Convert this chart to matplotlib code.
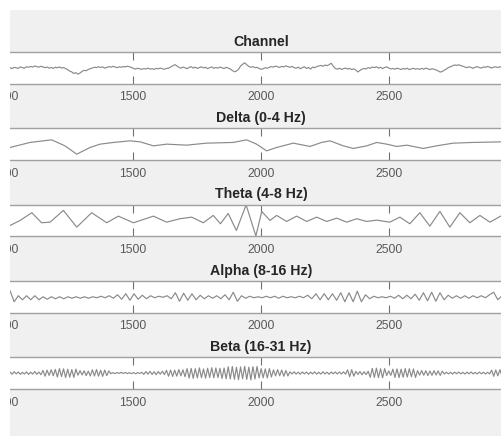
"""
plot.py

eeg band plots, matlab style figure (cropped screenshot look)
"""
import matplotlib
matplotlib.use('Agg')
import matplotlib.pyplot as plt
import numpy as np
from matplotlib.patches import Rectangle

# data ------------------------------------------------------------------------
titles = ['Channel', 'Delta (0-4 Hz)', 'Theta (4-8 Hz)',
          'Alpha (8-16 Hz)', 'Beta (16-31 Hz)']
xtick_values = [1000, 1500, 2000, 2500]

# first / last visible sample
t_start = 1022
t_stop = 2939

channel_y = [
    0.3, -0.8, 0.5, 0.1, -0.6, 0.9, 0.2, -0.4, 1.1, 0.6, 1.4, 0.8, 1.9, 1.2, 0.7, 1.6, 0.9, 0.2, 0.8, -0.3,
    0.4, -0.5, 0.6, 0.1, 0.9, -0.2, 0.3, -0.7, -1.8, -3.2, -4.1, -5.6, -4.8, -6.3, -5.1, -3.6, -2.4, -2.9, -1.6, -0.8,
    -0.2, 0.6, 0.3, 1.1, 0.5, 0.9, -0.3, 0.4, 1.2, 0.7, 1.5, 0.8, 0.2, 1.0, 0.6, 1.3, 0.9, 1.7, 1.1, 0.4,
    -0.6, -1.2, -0.4, -0.9, -1.5, -0.7, -1.1, -0.3, -1.3, -0.8, -1.6, -0.5, -1.0, -0.2, -0.9, -1.4, -0.6, -0.3, 0.8, 1.9,
    3.2, 2.1, 0.6, -0.4, 0.8, 0.1, -0.9, 0.5, 1.2, -0.2, 0.7, -0.6, 0.3, 1.0, -0.1, 0.6, -0.8, 0.2, 0.9, -0.5,
    0.4, -0.3, 0.8, 0.1, -0.7, 0.5, -0.2, -1.1, -2.6, -3.9, -3.2, -1.5, 1.8, 3.6, 5.0, 3.1, 1.4, 0.6, 1.2, 0.2,
    0.5, -0.6, -1.5, -0.9, 0.2, -0.4, 0.6, 1.3, 0.7, 1.8, 1.1, 0.4, 1.5, 0.9, 2.0, 1.2, 0.6, 1.4, 0.3, -0.4,
    0.7, -0.9, 0.2, 1.1, -0.6, 0.4, -1.2, 0.8, 0.1, 1.3, 1.9, 2.4, 1.6, 2.8, 2.2, 3.1, 4.6, 1.8, -0.6, -1.3,
    -0.4, -1.5, -0.8, -0.2, -1.2, -0.6, -1.7, -1.0, -2.2, -4.1, -2.6, -1.3, -0.7, -1.1, 0.3, -0.5, 0.9, 0.2, 1.1, -0.3,
    0.6, -0.8, 0.4, 1.0, -0.2, -1.1, -0.6, -1.4, -0.3, -0.9, -1.6, -0.7, -1.2, -0.4, -1.8, -1.0, -0.5, -1.3, -0.8, -1.5,
    -0.6, -1.2, -0.3, -1.0, -1.7, -0.9, -1.4, -2.1, -3.0, -4.2, -3.6, -2.4, -1.1, 0.3, 1.2, 2.1, 2.9, 2.4, 3.1, 2.2,
    1.6, 0.8, 0.2, 1.1, 0.4, -0.5, 0.7, 1.2, 0.3, -0.3, 0.9, 0.5, 1.4, 0.6, -0.2, 0.8, 1.0, 0.3, 1.1, 0.5,
]

delta_x = [1022, 1100, 1184, 1236, 1282, 1334, 1373, 1425, 1490, 1529,
           1581, 1632, 1710, 1788, 1892, 1944, 1983, 2022, 2061, 2126,
           2191, 2236, 2269, 2321, 2360, 2412, 2451, 2490, 2529, 2568,
           2632, 2684, 2749, 2827, 2939]
delta_y = [-3.3, 1.7, 4.3, -1.7, -10.0, -3.3, 0.0, 1.7, 3.3, 2.3,
           -1.7, 0.0, -1.0, 1.0, 1.7, 4.3, 0.0, -6.7, -3.3, 1.0,
           -2.3, 1.7, 3.3, -1.7, -4.3, -1.7, 1.7, 0.0, -2.3, -1.0,
           -4.3, -1.7, 1.0, 1.7, 2.3]

theta_x = [1022, 1061, 1107, 1145, 1178, 1230, 1282, 1340, 1399, 1444,
           1503, 1542, 1581, 1632, 1684, 1730, 1775, 1814, 1842, 1872,
           1904, 1942, 1980, 2003, 2035, 2061, 2100, 2139, 2178, 2217,
           2256, 2295, 2334, 2373, 2412, 2451, 2502, 2541, 2580, 2619,
           2658, 2697, 2736, 2775, 2814, 2853, 2892, 2939]
theta_y = [-5.0, 0.0, 7.7, -2.3, -1.7, 10.0, -6.7, 7.7, -2.3, 4.3,
           -2.3, 1.0, 4.3, -1.7, 1.7, 3.3, -2.3, 5.0, -3.3, 7.0,
           -10.0, 15.5, -15.5, 9.0, 0.0, 5.0, -1.0, 4.3, -1.0, 3.3,
           -1.0, 2.3, -1.7, 1.7, -1.0, 0.3, -1.7, 3.3, -3.3, 7.7,
           -5.7, 9.0, -6.7, 7.7, -2.3, 5.0, -1.7, 5.0]

alpha_y = [
    6.0, -5.0, 1.0, -3.0, 1.0, -3.0, 1.0, -3.0, 0.0, -2.5,
    0.0, -2.0, 0.0, -2.0, 0.0, -1.5, 0.0, -1.5, 0.0, -1.5,
    0.0, -1.0, 0.5, -1.0, 1.0, -1.5, 2.0, -2.5, 3.0, -3.5,
    3.0, -2.5, 1.5, -2.0, 1.0, -1.0, 0.5, -0.5, 1.0, -2.0,
    4.0, -4.5, 3.5, -3.5, 3.0, -3.0, 1.5, -2.0, 1.0, -1.5,
    1.0, -2.0, 2.0, -3.0, 4.5, -4.5, 1.0, -1.5, 0.5, -1.0,
    0.0, -1.0, 0.5, -1.0, 0.5, -1.5, 0.5, -1.0, 0.0, -1.0,
    0.5, -1.0, 1.5, -2.0, 3.0, -3.0, 3.0, -3.0, 3.0, -3.5,
    4.0, -5.0, 4.0, -5.0, 5.5, -5.0, 2.0, -2.0, 0.5, -1.0,
    0.0, -1.0, 0.5, -1.5, 1.5, -2.0, 1.5, -2.0, 2.5, -3.5,
    4.0, -4.0, 4.5, -4.5, 4.0, -3.0, 1.5, -1.5, 1.0, -1.5,
    1.0, -1.5, 1.0, -1.0, 1.0, -1.0, 2.0, 4.5, -3.0, 1.0,
]

beta_y = [
    1.2, -1.5, 1.8, -1.0, 1.4, -1.7, 0.9, -1.3, 1.6, -1.8, 1.1, -1.4, 2.0, -1.6, 1.3, -2.2, 3.5, -4.2, 3.8, -3.1,
    4.4, -3.6, 4.8, -5.3, 5.9, -4.7, 5.6, -6.0, 5.1, -5.5, 4.6, -5.8, 5.2, -2.9, 3.3, -2.5, 3.0, -3.4, 2.6, -3.8,
    4.3, -3.9, 4.6, -4.1, 3.7, -4.4, 4.0, -3.5, 2.8, -0.9, 0.6, -0.8, 0.7, -0.5, 0.9, -0.6, 0.8, -0.7, 0.5, -0.8,
    0.6, -0.9, 0.7, -0.6, 1.0, -1.8, 2.1, -1.6, 2.3, -1.9, 1.7, -2.2, 2.0, -1.5, 2.4, -2.0, 3.6, -4.2, 3.9, -4.5,
    3.8, -4.1, 4.6, -3.7, 4.3, -4.8, 5.9, -6.6, 6.2, -7.0, 5.8, -6.4, 6.9, -6.1, 5.5, -6.8, 6.4, -5.9, 7.1, -6.3,
    6.7, -6.0, 6.3, -7.2, 6.6, -7.6, 8.3, -7.9, 8.6, -8.2, 7.7, -8.8, 8.1, -7.5, 8.9, -8.4, 7.8, -9.0, 8.5, -7.9,
    8.7, -6.4, 5.8, -6.2, 5.5, -6.5, 5.9, -5.3, 4.2, -3.8, 4.5, -3.6, 4.0, -4.3, 3.4, -3.9, 1.6, -1.3, 1.7, -1.4,
    1.2, -1.6, 1.5, -1.1, 1.4, -1.7, 1.3, -1.2, 1.6, -1.5, 1.1, -1.4, 1.7, -1.3, 1.2, -1.6, 1.4, -1.1, 1.5, -1.3,
    1.4, -1.2, 1.6, -1.5, 4.2, -4.8, 4.6, -4.1, 2.2, -1.8, 2.1, -2.3, 1.7, -2.0, 2.4, -5.6, 6.2, -5.8, 6.5, -6.0,
    5.7, -6.3, 5.9, -3.2, 2.8, -3.1, 5.2, -5.8, 5.5, -6.0, 5.1, -5.6, 5.9, -5.3, 5.7, -5.0, 5.4, -5.9, 3.1, -2.8,
    3.3, -2.9, 3.1, -3.4, 2.7, -3.0, 3.2, -2.6, 2.9, -3.1, 2.5, -1.3, 1.1, -1.2, 1.0, -1.4, 1.2, -0.9, 1.3, -1.1,
    1.0, -1.3, 1.2, -1.0, 1.4, -1.1, 0.9, -1.2, 1.3, -1.0, 1.1, -1.3, 1.0, -1.2, 3.8, -4.3, 4.1, -3.7, 4.4, -3.9,
]

# style -----------------------------------------------------------------------
W, H = 502, 436
fig_bg = '#f0f0f0'
line_gray = '#8a8a8a'
box_gray = '#a0a0a0'
text_gray = '#595959'
title_col = '#262626'
plt.rcParams['font.family'] = ['Liberation Sans', 'DejaVu Sans']

# y half range per panel
y_half = [15.8, 15.8, 15.8, 15.8, 21.0]


def setup_fig():
    """
    figure with the gray matlab background
    """
    fig = plt.figure(figsize=(W / 100, H / 100), dpi=100, facecolor=fig_bg)
    return fig


def add_panel(fig, k, x, y, title, half):
    """
    add one of the stacked trace axes

    pre:
        fig: the figure
        k: <int> panel number from the top
        x, y: trace values
        title: <string> panel title
        half: <float> half height of the y range
    post:
        returns the axes
    """
    top_px = 52 + 76.3 * k
    h_px = 31.7
    # axes run past the figure edges, like the cropped original
    left_px, right_px = -34.1, 556.1
    ax = fig.add_axes([left_px / W, 1 - (top_px + h_px) / H,
                       (right_px - left_px) / W, h_px / H])
    ax.set_facecolor('white')
    ax.plot(x, y, color=line_gray, linewidth=0.85, solid_joinstyle='round')
    ax.set_xlim(850, 3150)
    ax.set_ylim(-half, half)
    ax.set_xticks(xtick_values)
    ax.set_xticklabels([str(v) for v in xtick_values])
    ax.set_yticks([])
    for side in ['left', 'right']:
        ax.spines[side].set_visible(False)
    for side in ['top', 'bottom']:
        ax.spines[side].set_color(box_gray)
        ax.spines[side].set_linewidth(1.0)
    ax.tick_params(axis='x', direction='in', length=5.8, width=0.8,
                   color='#707070', top=True, bottom=True, pad=5.5,
                   labelsize=8.7, labelcolor=text_gray)
    ax.annotate(title, xy=(2000, 1), xycoords=('data', 'axes fraction'),
                xytext=(0, 4.5), textcoords='offset points',
                ha='center', va='baseline', fontsize=10.2,
                fontweight='bold', color=title_col)
    return ax


fig = setup_fig()

samples = {
    'channel': np.linspace(t_start, t_stop, len(channel_y)),
    'alpha': np.linspace(t_start, t_stop, len(alpha_y)),
    'beta': np.linspace(t_start, t_stop, len(beta_y)),
}
traces = [(samples['channel'], channel_y),
          (delta_x, delta_y),
          (theta_x, theta_y),
          (samples['alpha'], alpha_y),
          (samples['beta'], beta_y)]

for k, (x, y) in enumerate(traces):
    add_panel(fig, k, x, y, titles[k], y_half[k])

# white strips left and top (outside the matlab window)
fig.add_artist(Rectangle((0, 0), 10 / W, 1, transform=fig.transFigure,
                         facecolor='white', edgecolor='none', zorder=10))
fig.add_artist(Rectangle((0, 1 - 10 / H), 1, 10 / H, transform=fig.transFigure,
                         facecolor='white', edgecolor='none', zorder=10))

fig.savefig('out.png', dpi=100, facecolor=fig.get_facecolor())
